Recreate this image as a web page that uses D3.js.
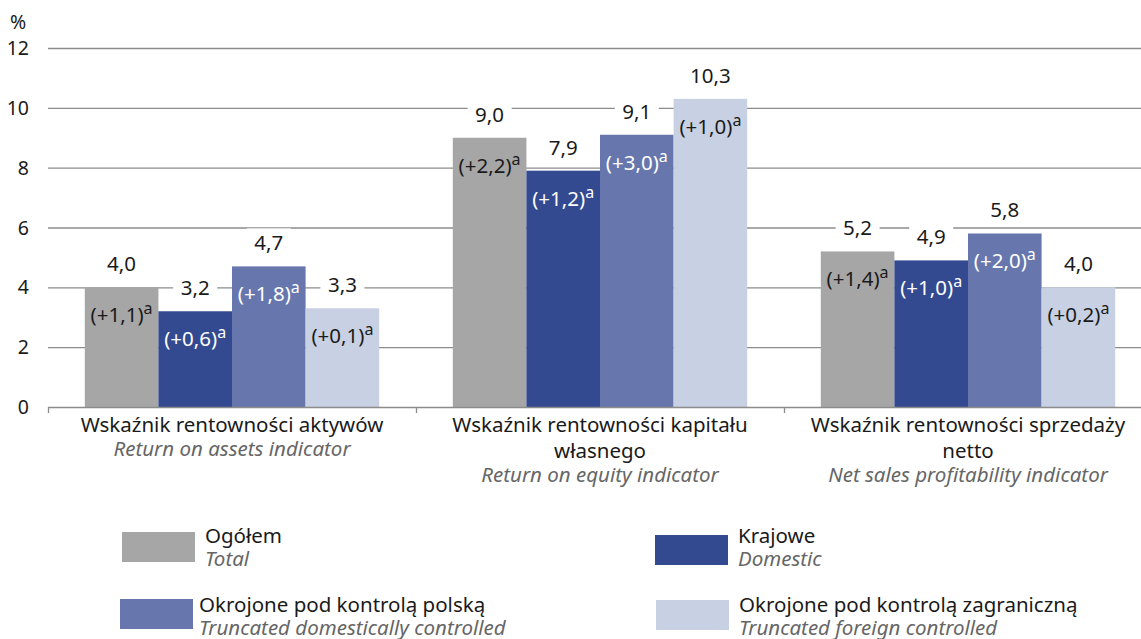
<!DOCTYPE html>
<html>
<head>
<meta charset="utf-8">
<script src="https://cdn.jsdelivr.net/npm/d3@7"></script>
<style>
  body { margin: 0; background: #fff; }
  text { font-family: "Noto Sans", sans-serif; }
</style>
</head>
<body>
<svg id="chart" width="1141" height="639"></svg>
<script>
// data
const categories = ["Wskaźnik rentowności aktywów", "Wskaźnik rentowności kapitału\nwłasnego", "Wskaźnik rentowności sprzedaży\nnetto"];
const categoriesEn = ["Return on assets indicator", "Return on equity indicator", "Net sales profitability indicator"];
const seriesPl = ["Ogółem", "Krajowe", "Okrojone pod kontrolą polską", "Okrojone pod kontrolą zagraniczną"];
const seriesEn = ["Total", "Domestic", "Truncated domestically controlled", "Truncated foreign controlled"];
const totalVals = [4.0, 9.0, 5.2];
const domesticVals = [3.2, 7.9, 4.9];
const truncPlVals = [4.7, 9.1, 5.8];
const truncForVals = [3.3, 10.3, 4.0];
const totalChg = ["+1,1", "+2,2", "+1,4"];
const domesticChg = ["+0,6", "+1,2", "+1,0"];
const truncPlChg = ["+1,8", "+3,0", "+2,0"];
const truncForChg = ["+0,1", "+1,0", "+0,2"];
const yTicks = [0, 2, 4, 6, 8, 10, 12];

const colors = ["#a6a6a6", "#334a91", "#6777ad", "#c8d1e3"];
const chgColors = ["#1a1a1a", "#ffffff", "#ffffff", "#1a1a1a"];

const values = [totalVals, domesticVals, truncPlVals, truncForVals];
const changes = [totalChg, domesticChg, truncPlChg, truncForChg];

const MARGIN = { TOP: 48, LEFT: 48 };
const W = 1141, H0 = 407;
const FS = 20.5;

const svg = d3.select("#chart");

// plot area runs a bit past the right edge, last band is clipped
const x0 = d3.scaleBand().domain(d3.range(categories.length)).range([MARGIN.LEFT, 1152]);
const x1 = d3.scaleBand().domain(d3.range(seriesPl.length)).range([0, x0.bandwidth()]).paddingOuter(0.5).paddingInner(0);
const y = d3.scaleLinear().domain([0, 12]).range([H0, MARGIN.TOP]);

// gridlines
svg.append("g")
  .selectAll("line")
  .data(yTicks.filter(d => d > 0))
  .enter().append("line")
  .attr("x1", MARGIN.LEFT).attr("x2", W)
  .attr("y1", d => y(d) + 0.5).attr("y2", d => y(d) + 0.5)
  .attr("stroke", "#8c8c8c").attr("stroke-width", 1.3);

// y tick labels
svg.append("g")
  .selectAll("text")
  .data(yTicks)
  .enter().append("text")
  .attr("x", 29).attr("y", d => y(d))
  .attr("dy", "0.36em")
  .attr("text-anchor", "end")
  .attr("font-size", FS - 1).attr("fill", "#1a1a1a")
  .text(d => d);

svg.append("text").attr("x", 10).attr("y", 29).attr("font-size", FS - 1).attr("fill", "#1a1a1a").text("%");

// bars
const groups = svg.append("g").selectAll("g")
  .data(categories)
  .enter().append("g")
  .attr("transform", (d, i) => `translate(${x0(i)},0)`);

groups.each(function(c, ci) {
  const g = d3.select(this);
  seriesPl.forEach((s, si) => {
    const v = values[si][ci];
    g.append("rect")
      .attr("x", x1(si)).attr("width", x1.bandwidth())
      .attr("y", y(v)).attr("height", H0 - y(v))
      .attr("fill", colors[si]);
  });
  seriesPl.forEach((s, si) => {
    const v = values[si][ci];
    const cx = x1(si) + x1.bandwidth() / 2;
    // white box behind value label hides gridlines
    g.append("rect")
      .attr("x", cx - 22).attr("y", y(v) - 38)
      .attr("width", 44).attr("height", 30)
      .attr("fill", "#fff");
    g.append("text")
      .attr("x", cx).attr("y", y(v) - 16)
      .attr("text-anchor", "middle")
      .attr("font-size", FS).attr("fill", "#1a1a1a")
      .text(d3.format(".1f")(v).replace(".", ","));
    // change label
    const t = g.append("text")
      .attr("x", cx).attr("y", y(v) + 35)
      .attr("text-anchor", "middle")
      .attr("font-size", FS).attr("fill", chgColors[si]);
    t.append("tspan").text(`(${changes[si][ci]})`);
    t.append("tspan").attr("dy", "-0.5em").attr("font-size", 16).text("a");
  });
});

// x axis
svg.append("line")
  .attr("x1", MARGIN.LEFT).attr("x2", W)
  .attr("y1", H0 + 0.5).attr("y2", H0 + 0.5)
  .attr("stroke", "#8c8c8c").attr("stroke-width", 1.3);
svg.append("g").selectAll("line")
  .data(d3.range(categories.length))
  .enter().append("line")
  .attr("x1", i => x0(i) + 0.5).attr("x2", i => x0(i) + 0.5)
  .attr("y1", H0).attr("y2", H0 + 6)
  .attr("stroke", "#8c8c8c").attr("stroke-width", 1.3);

// category labels
categories.forEach((c, ci) => {
  const cx = x0(ci) + x0.bandwidth() / 2;
  const lines = c.split("\n");
  lines.forEach((ln, li) => {
    svg.append("text")
      .attr("x", cx).attr("y", 432 + li * 25.5)
      .attr("text-anchor", "middle")
      .attr("font-size", FS).attr("fill", "#1a1a1a")
      .text(ln);
  });
  svg.append("text")
    .attr("x", cx).attr("y", 430 + lines.length * 26)
    .attr("text-anchor", "middle")
    .attr("font-size", FS).attr("font-style", "italic").attr("fill", "#666")
    .text(categoriesEn[ci]);
});

// legend
const legendPos = [[122, 532, 83], [655, 535, 83], [120, 599, 79], [656, 600, 83]];
seriesPl.forEach((s, si) => {
  const [lx, ly, tx] = legendPos[si];
  const rowY = si < 2 ? 543 : 612;
  svg.append("rect").attr("x", lx).attr("y", ly).attr("width", 73).attr("height", 30).attr("fill", colors[si]);
  svg.append("text").attr("x", lx + tx).attr("y", rowY).attr("font-size", FS).attr("fill", "#1a1a1a").text(s);
  svg.append("text").attr("x", lx + tx).attr("y", rowY + 23).attr("font-size", FS).attr("font-style", "italic").attr("fill", "#666").text(seriesEn[si]);
});
</script>
</body>
</html>
